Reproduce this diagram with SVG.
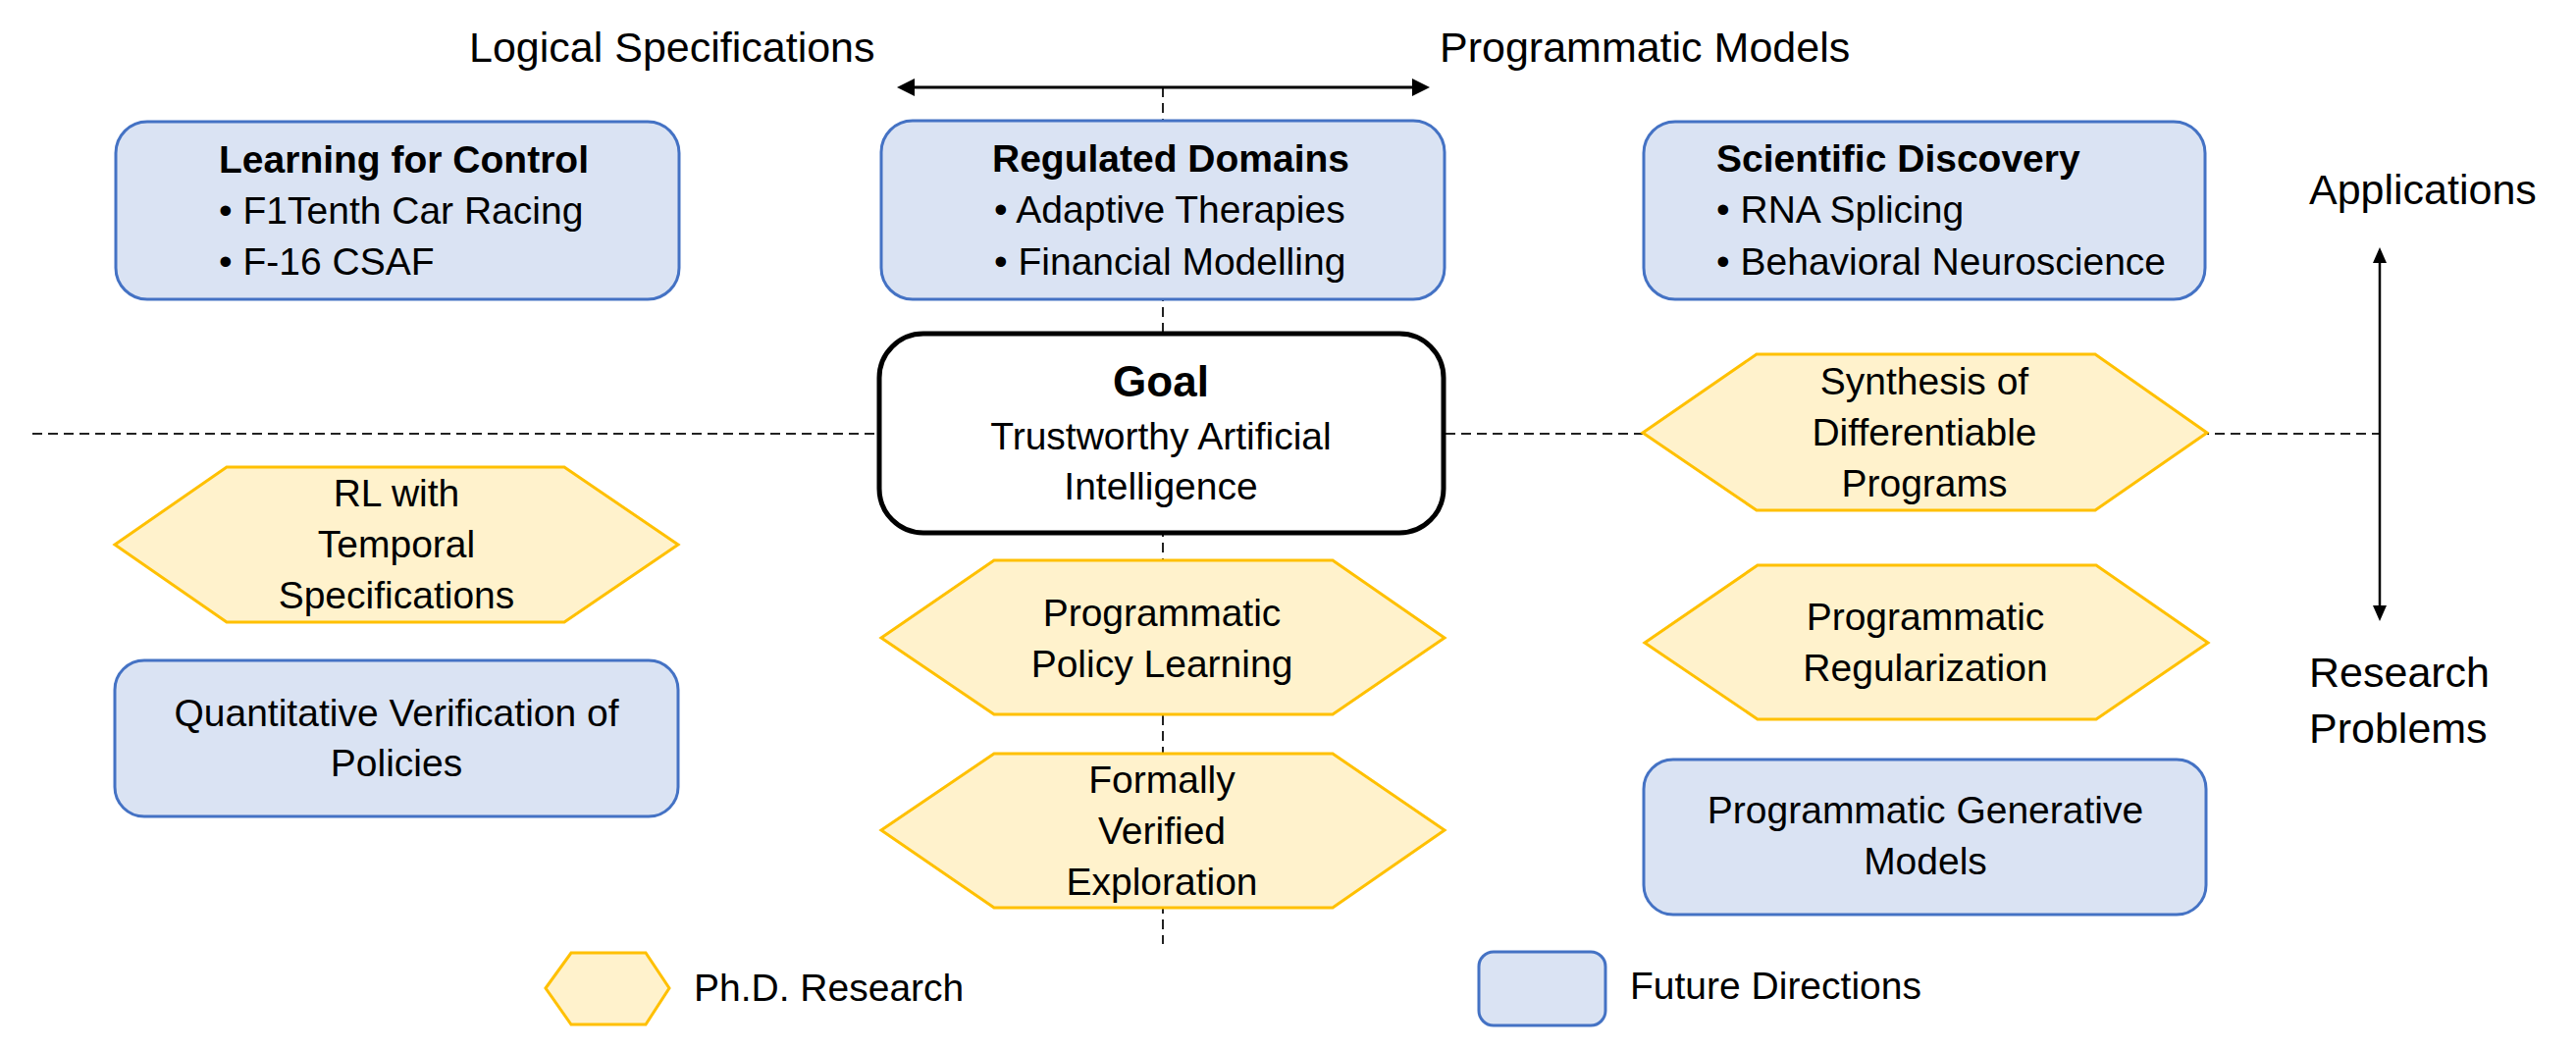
<svg xmlns="http://www.w3.org/2000/svg" width="2625" height="1069" viewBox="0 0 2625 1069">
<style>
text{font-family:"Liberation Sans",Arial,sans-serif;fill:#000}
.t{font-size:43px}
.b{font-size:39px}
.bb{font-size:39px;font-weight:bold}
.c{text-anchor:middle}
.blue{fill:#DAE3F3;stroke:#4472C4;stroke-width:3}
.hex{fill:#FFF2CC;stroke:#FFC000;stroke-width:3}
.dash{stroke:#222;stroke-width:2;stroke-dasharray:10 6;fill:none}
.arr{stroke:#000;fill:none}
</style>
<defs>
<marker id="ah" markerUnits="userSpaceOnUse" markerWidth="20" markerHeight="20" refX="14" refY="9" orient="auto-start-reverse">
<path d="M0,0 L18,9 L0,18 z" fill="#000"/>
</marker>
<marker id="ah2" markerUnits="userSpaceOnUse" markerWidth="18" markerHeight="16" refX="12" refY="7" orient="auto-start-reverse">
<path d="M0,0 L16,7 L0,14 z" fill="#000"/>
</marker>
</defs>
<rect width="2625" height="1069" fill="#fff"/>

<g id="connectors">
<line class="dash" x1="33" y1="442" x2="2425" y2="442"/>
<line class="dash" x1="1185" y1="89" x2="1185" y2="962"/>
<line class="arr" x1="918" y1="89" x2="1453" y2="89" stroke-width="3" marker-start="url(#ah)" marker-end="url(#ah)"/>
<line class="arr" x1="2425" y1="256" x2="2425" y2="629" stroke-width="2.5" marker-start="url(#ah2)" marker-end="url(#ah2)"/>
</g>

<g id="labels">
<text class="t" x="478" y="63">Logical Specifications</text>
<text class="t" x="1467" y="63">Programmatic Models</text>
<text class="t" x="2353" y="208">Applications</text>
<text class="t" x="2353" y="700">Research</text>
<text class="t" x="2353" y="757">Problems</text>
</g>

<g id="learning-for-control">
<rect class="blue" x="118" y="124" width="574" height="181" rx="32"/>
<text class="bb" x="223" y="176">Learning for Control</text>
<text class="b" x="223" y="228">• F1Tenth Car Racing</text>
<text class="b" x="223" y="280">• F-16 CSAF</text>
</g>

<g id="regulated-domains">
<rect class="blue" x="898" y="123" width="574" height="182" rx="32"/>
<text class="bb" x="1011" y="175">Regulated Domains</text>
<text class="b" x="1013" y="227">• Adaptive Therapies</text>
<text class="b" x="1013" y="280">• Financial Modelling</text>
</g>

<g id="scientific-discovery">
<rect class="blue" x="1675" y="124" width="572" height="181" rx="32"/>
<text class="bb" x="1749" y="175">Scientific Discovery</text>
<text class="b" x="1749" y="227">• RNA Splicing</text>
<text class="b" x="1749" y="280">• Behavioral Neuroscience</text>
</g>

<g id="goal">
<rect x="896" y="340" width="575" height="203" rx="45" fill="#fff" stroke="#000" stroke-width="5"/>
<text class="c" x="1183" y="404" font-size="44" font-weight="bold">Goal</text>
<text class="b c" x="1183" y="458">Trustworthy Artificial</text>
<text class="b c" x="1183" y="509">Intelligence</text>
</g>

<g id="synthesis">
<polygon class="hex" points="1674,441 1790,361 2135,361 2249,441 2135,520 1790,520"/>
<text class="b c" x="1961" y="402">Synthesis of</text>
<text class="b c" x="1961" y="454">Differentiable</text>
<text class="b c" x="1961" y="506">Programs</text>
</g>

<g id="rl-temporal">
<polygon class="hex" points="117,555 231,476 575,476 691,555 575,634 231,634"/>
<text class="b c" x="404" y="516">RL with</text>
<text class="b c" x="404" y="568">Temporal</text>
<text class="b c" x="404" y="620">Specifications</text>
</g>

<g id="quantitative-verification">
<rect class="blue" x="117" y="673" width="574" height="159" rx="30"/>
<text class="b c" x="404" y="740">Quantitative Verification of</text>
<text class="b c" x="404" y="791">Policies</text>
</g>

<g id="programmatic-policy-learning">
<polygon class="hex" points="898,650 1013,571 1358,571 1472,650 1358,728 1013,728"/>
<text class="b c" x="1184" y="638">Programmatic</text>
<text class="b c" x="1184" y="690">Policy Learning</text>
</g>

<g id="formally-verified-exploration">
<polygon class="hex" points="898,846 1013,768 1358,768 1472,846 1358,925 1013,925"/>
<text class="b c" x="1184" y="808">Formally</text>
<text class="b c" x="1184" y="860">Verified</text>
<text class="b c" x="1184" y="912">Exploration</text>
</g>

<g id="programmatic-regularization">
<polygon class="hex" points="1676,655 1791,576 2136,576 2250,655 2136,733 1791,733"/>
<text class="b c" x="1962" y="642">Programmatic</text>
<text class="b c" x="1962" y="694">Regularization</text>
</g>

<g id="programmatic-generative-models">
<rect class="blue" x="1675" y="774" width="573" height="158" rx="30"/>
<text class="b c" x="1962" y="839">Programmatic Generative</text>
<text class="b c" x="1962" y="891">Models</text>
</g>

<g id="legend-phd">
<polygon class="hex" points="556,1007 582,971 658,971 682,1007 658,1044 582,1044"/>
<text class="b" x="707" y="1020">Ph.D. Research</text>
</g>

<g id="legend-future">
<rect class="blue" x="1507" y="970" width="129" height="75" rx="15"/>
<text class="b" x="1661" y="1018">Future Directions</text>
</g>
</svg>
